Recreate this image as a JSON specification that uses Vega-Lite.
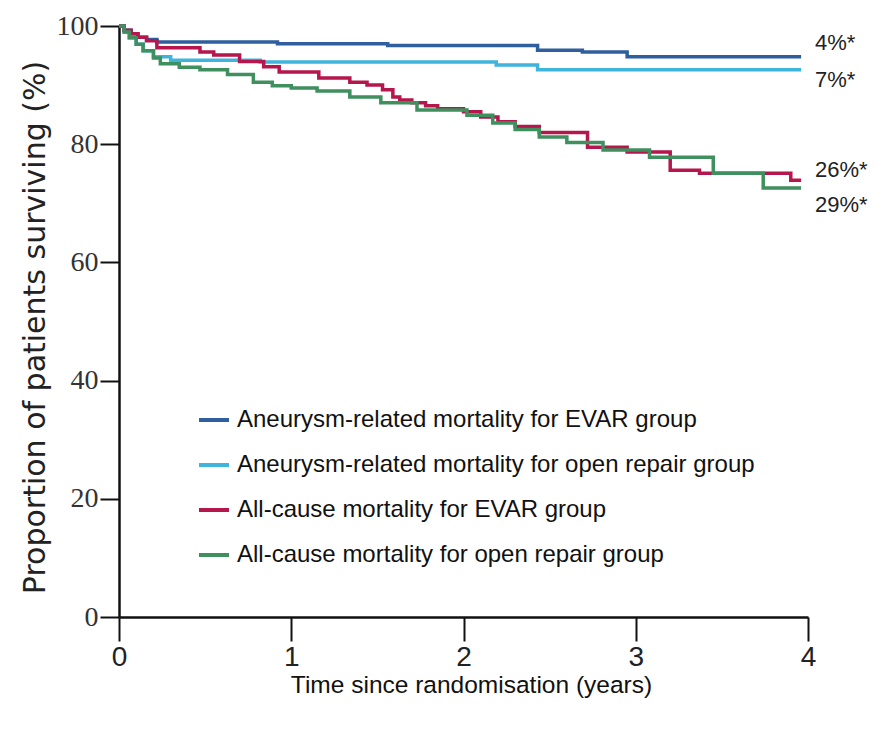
{
  "$schema": "https://vega.github.io/schema/vega-lite/v6.json",
  "autosize": {"type": "none"},
  "width": 689,
  "height": 591,
  "padding": {"left": 119, "top": 26, "right": 77, "bottom": 118},
  "background": "white",
  "config": {"view": {"stroke": null}},
  "datasets": {
    "curves": [
      {"group": "Aneurysm-related mortality for EVAR group", "t": 0, "s": 100},
      {"group": "Aneurysm-related mortality for EVAR group", "t": 0.03, "s": 99.3},
      {"group": "Aneurysm-related mortality for EVAR group", "t": 0.07, "s": 98.7},
      {"group": "Aneurysm-related mortality for EVAR group", "t": 0.11, "s": 98.1},
      {"group": "Aneurysm-related mortality for EVAR group", "t": 0.16, "s": 97.7},
      {"group": "Aneurysm-related mortality for EVAR group", "t": 0.22, "s": 97.3},
      {"group": "Aneurysm-related mortality for EVAR group", "t": 0.92, "s": 97.0},
      {"group": "Aneurysm-related mortality for EVAR group", "t": 1.56, "s": 96.7},
      {"group": "Aneurysm-related mortality for EVAR group", "t": 2.43, "s": 95.9},
      {"group": "Aneurysm-related mortality for EVAR group", "t": 2.69, "s": 95.6},
      {"group": "Aneurysm-related mortality for EVAR group", "t": 2.95, "s": 94.8},
      {"group": "Aneurysm-related mortality for EVAR group", "t": 3.96, "s": 94.8},
      {"group": "Aneurysm-related mortality for open repair group", "t": 0, "s": 100},
      {"group": "Aneurysm-related mortality for open repair group", "t": 0.03, "s": 99.0},
      {"group": "Aneurysm-related mortality for open repair group", "t": 0.06, "s": 98.0},
      {"group": "Aneurysm-related mortality for open repair group", "t": 0.1, "s": 96.9},
      {"group": "Aneurysm-related mortality for open repair group", "t": 0.14, "s": 95.8},
      {"group": "Aneurysm-related mortality for open repair group", "t": 0.2, "s": 94.8},
      {"group": "Aneurysm-related mortality for open repair group", "t": 0.3, "s": 94.2},
      {"group": "Aneurysm-related mortality for open repair group", "t": 0.82, "s": 93.9},
      {"group": "Aneurysm-related mortality for open repair group", "t": 2.19, "s": 93.4},
      {"group": "Aneurysm-related mortality for open repair group", "t": 2.43, "s": 92.6},
      {"group": "Aneurysm-related mortality for open repair group", "t": 3.96, "s": 92.6},
      {"group": "All-cause mortality for EVAR group", "t": 0, "s": 100},
      {"group": "All-cause mortality for EVAR group", "t": 0.03, "s": 99.3},
      {"group": "All-cause mortality for EVAR group", "t": 0.07, "s": 98.7},
      {"group": "All-cause mortality for EVAR group", "t": 0.11, "s": 98.1},
      {"group": "All-cause mortality for EVAR group", "t": 0.16, "s": 97.5},
      {"group": "All-cause mortality for EVAR group", "t": 0.22, "s": 96.3},
      {"group": "All-cause mortality for EVAR group", "t": 0.47, "s": 95.6},
      {"group": "All-cause mortality for EVAR group", "t": 0.55, "s": 95.1},
      {"group": "All-cause mortality for EVAR group", "t": 0.7, "s": 94.0},
      {"group": "All-cause mortality for EVAR group", "t": 0.84, "s": 93.1},
      {"group": "All-cause mortality for EVAR group", "t": 0.93, "s": 92.2},
      {"group": "All-cause mortality for EVAR group", "t": 1.16, "s": 91.2},
      {"group": "All-cause mortality for EVAR group", "t": 1.34, "s": 90.5},
      {"group": "All-cause mortality for EVAR group", "t": 1.44, "s": 90.0},
      {"group": "All-cause mortality for EVAR group", "t": 1.53, "s": 89.2},
      {"group": "All-cause mortality for EVAR group", "t": 1.59, "s": 88.0},
      {"group": "All-cause mortality for EVAR group", "t": 1.63, "s": 87.5},
      {"group": "All-cause mortality for EVAR group", "t": 1.7, "s": 87.0},
      {"group": "All-cause mortality for EVAR group", "t": 1.78, "s": 86.5},
      {"group": "All-cause mortality for EVAR group", "t": 1.85, "s": 86.0},
      {"group": "All-cause mortality for EVAR group", "t": 2.0, "s": 85.5},
      {"group": "All-cause mortality for EVAR group", "t": 2.1, "s": 84.6},
      {"group": "All-cause mortality for EVAR group", "t": 2.2, "s": 83.8},
      {"group": "All-cause mortality for EVAR group", "t": 2.3, "s": 83.0},
      {"group": "All-cause mortality for EVAR group", "t": 2.44, "s": 82.0},
      {"group": "All-cause mortality for EVAR group", "t": 2.72, "s": 79.5},
      {"group": "All-cause mortality for EVAR group", "t": 2.95, "s": 78.7},
      {"group": "All-cause mortality for EVAR group", "t": 3.2, "s": 75.6},
      {"group": "All-cause mortality for EVAR group", "t": 3.37, "s": 75.1},
      {"group": "All-cause mortality for EVAR group", "t": 3.9, "s": 73.9},
      {"group": "All-cause mortality for EVAR group", "t": 3.96, "s": 73.9},
      {"group": "All-cause mortality for open repair group", "t": 0, "s": 100},
      {"group": "All-cause mortality for open repair group", "t": 0.03, "s": 99.0},
      {"group": "All-cause mortality for open repair group", "t": 0.06, "s": 98.0},
      {"group": "All-cause mortality for open repair group", "t": 0.1, "s": 96.9},
      {"group": "All-cause mortality for open repair group", "t": 0.14, "s": 95.8},
      {"group": "All-cause mortality for open repair group", "t": 0.2, "s": 94.6},
      {"group": "All-cause mortality for open repair group", "t": 0.24, "s": 93.6},
      {"group": "All-cause mortality for open repair group", "t": 0.35, "s": 93.0},
      {"group": "All-cause mortality for open repair group", "t": 0.47, "s": 92.6},
      {"group": "All-cause mortality for open repair group", "t": 0.63, "s": 91.8},
      {"group": "All-cause mortality for open repair group", "t": 0.78, "s": 90.5},
      {"group": "All-cause mortality for open repair group", "t": 0.89, "s": 89.9},
      {"group": "All-cause mortality for open repair group", "t": 1.0, "s": 89.5},
      {"group": "All-cause mortality for open repair group", "t": 1.15, "s": 89.0},
      {"group": "All-cause mortality for open repair group", "t": 1.34, "s": 88.0},
      {"group": "All-cause mortality for open repair group", "t": 1.52, "s": 87.0},
      {"group": "All-cause mortality for open repair group", "t": 1.73, "s": 85.8},
      {"group": "All-cause mortality for open repair group", "t": 2.02, "s": 84.9},
      {"group": "All-cause mortality for open repair group", "t": 2.17, "s": 83.6},
      {"group": "All-cause mortality for open repair group", "t": 2.3, "s": 82.5},
      {"group": "All-cause mortality for open repair group", "t": 2.44, "s": 81.2},
      {"group": "All-cause mortality for open repair group", "t": 2.6, "s": 80.3},
      {"group": "All-cause mortality for open repair group", "t": 2.81, "s": 79.0},
      {"group": "All-cause mortality for open repair group", "t": 3.08, "s": 77.8},
      {"group": "All-cause mortality for open repair group", "t": 3.45, "s": 75.1},
      {"group": "All-cause mortality for open repair group", "t": 3.74, "s": 72.6},
      {"group": "All-cause mortality for open repair group", "t": 3.96, "s": 72.6}
    ],
    "endLabels": [
      {"t": 4, "s": 97.1, "label": "4%*"},
      {"t": 4, "s": 90.9, "label": "7%*"},
      {"t": 4, "s": 75.6, "label": "26%*"},
      {"t": 4, "s": 69.7, "label": "29%*"}
    ]
  },
  "layer": [
    {
      "data": {"name": "curves"},
      "mark": {"type": "line", "interpolate": "step-after", "strokeWidth": 3.5, "clip": false},
      "encoding": {
        "x": {
          "field": "t", "type": "quantitative",
          "scale": {"domain": [0, 4], "nice": false, "zero": false},
          "axis": {
            "title": "Time since randomisation (years)",
            "values": [0, 1, 2, 3, 4],
            "format": "d",
            "grid": false,
            "domainColor": "#111", "domainWidth": 2.5,
            "tickColor": "#111", "tickWidth": 2, "tickSize": 24,
            "labelFont": "Liberation Sans",
            "labelFontSize": 28, "labelColor": "#222", "labelPadding": 2,
            "labelFlush": false,
            "titleFont": "Liberation Sans",
            "titleFontSize": 24.5, "titleFontWeight": "normal", "titleColor": "#111",
            "titleX": 352, "titleY": 75, "titleBaseline": "alphabetic"
          }
        },
        "y": {
          "field": "s", "type": "quantitative",
          "scale": {"domain": [0, 100], "nice": false},
          "axis": {
            "title": "Proportion of patients surviving (%)",
            "values": [0, 20, 40, 60, 80, 100],
            "grid": false,
            "domainColor": "#111", "domainWidth": 2.5,
            "tickColor": "#111", "tickWidth": 2, "tickSize": 19,
            "labelFont": "Liberation Serif", "labelFontSize": 28, "labelColor": "#333",
            "labelPadding": 2, "labelFlush": false,
            "titleFont": "DejaVu Sans", "titleFontSize": 30, "titleFontWeight": "normal", "titleColor": "#222",
            "titleX": -75, "titleY": 301, "titleAngle": -90, "titleBaseline": "alphabetic", "titleAlign": "center"
          }
        },
        "color": {
          "field": "group", "type": "nominal",
          "scale": {
            "domain": [
              "Aneurysm-related mortality for EVAR group",
              "Aneurysm-related mortality for open repair group",
              "All-cause mortality for EVAR group",
              "All-cause mortality for open repair group"
            ],
            "range": ["#2f5f9e", "#3fb4dc", "#b5164b", "#3f8f5f"]
          },
          "legend": {
            "title": null,
            "orient": "none",
            "legendX": 78,
            "legendY": 377,
            "padding": 0,
            "symbolType": "stroke",
            "symbolSize": 900,
            "symbolStrokeWidth": 4,
            "labelFont": "Liberation Sans",
            "labelFontSize": 24,
            "labelColor": "#111",
            "labelLimit": 0,
            "labelOffset": 6,
            "rowPadding": 16
          }
        }
      }
    },
    {
      "data": {"name": "endLabels"},
      "mark": {
        "type": "text", "align": "left", "baseline": "middle", "dx": 7,
        "font": "Liberation Sans",
        "fontSize": 22, "color": "#222", "clip": false
      },
      "encoding": {
        "x": {"field": "t", "type": "quantitative"},
        "y": {"field": "s", "type": "quantitative"},
        "text": {"field": "label"}
      }
    }
  ]
}
